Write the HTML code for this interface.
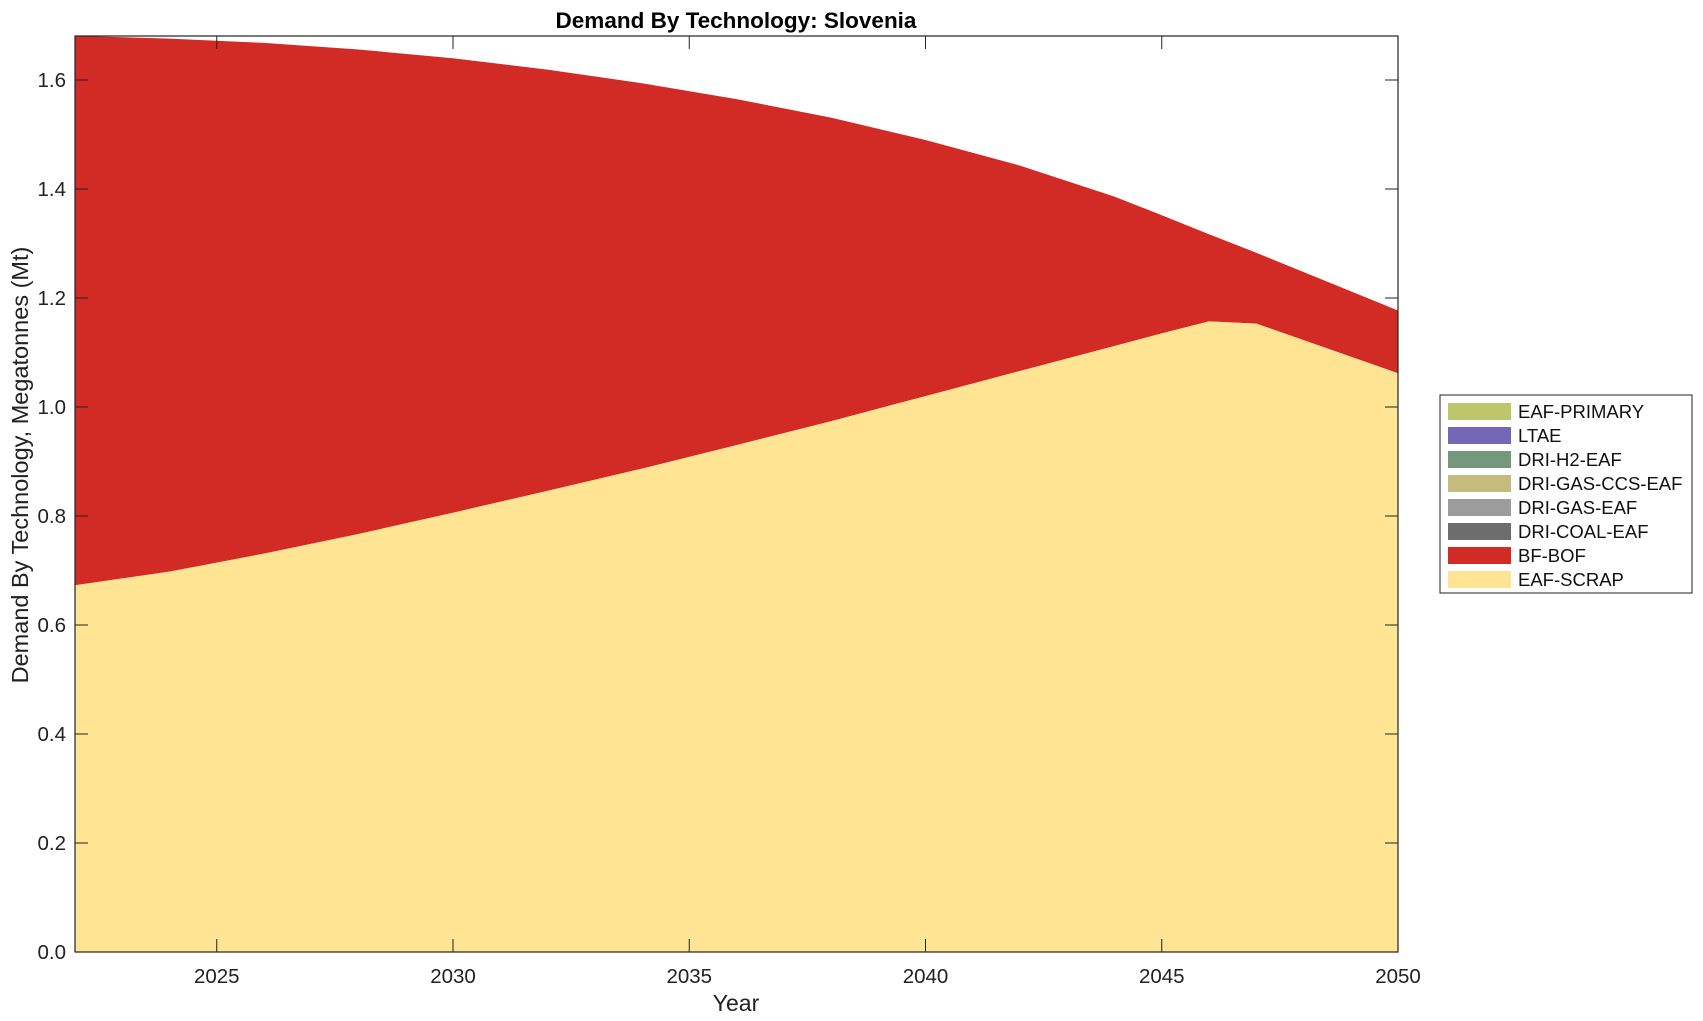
<!DOCTYPE html><html><head><style>body{margin:0;background:#fff}svg{display:block;font-family:"Liberation Sans",Arial,sans-serif}</style></head><body>
<svg id="s" width="1703" height="1021" xmlns="http://www.w3.org/2000/svg"></svg>
<script>
const X=y=>75+(y-2022)*(1398-75)/28, Y=v=>952-v*(952-80)/1.6;
const T=[[2022,1.681],[2024,1.676],[2026,1.668],[2028,1.656],[2030,1.64],[2032,1.619],[2034,1.594],[2036,1.565],[2038,1.531],[2040,1.49],[2042,1.443],[2044,1.386],[2045,1.352],[2046,1.317],[2047,1.283],[2050,1.177]];
const S=[[2022,0.673],[2024,0.698],[2026,0.731],[2028,0.767],[2030,0.806],[2032,0.846],[2034,0.887],[2036,0.93],[2038,0.974],[2040,1.02],[2042,1.066],[2044,1.112],[2045,1.135],[2046,1.157],[2047,1.153],[2050,1.062]];
const p=a=>a.map(d=>X(d[0]).toFixed(1)+','+Y(d[1]).toFixed(1));
let h='';
h+=`<polygon fill="#d22b25" points="${p(T).join(' ')} ${p(S.slice().reverse()).join(' ')}"/>`;
h+=`<polygon fill="#fee493" points="${p(S).join(' ')} ${X(2050)},${Y(0)} ${X(2022)},${Y(0)}"/>`;
h+=`<rect x="75" y="36" width="1323" height="916" fill="none" stroke="#222" stroke-width="1.2"/>`;
for(let i=0;i<=8;i++){const v=i*0.2,y=Y(v);h+=`<line x1="75" x2="88" y1="${y}" y2="${y}" stroke="#222"/><line x1="1385" x2="1398" y1="${y}" y2="${y}" stroke="#222"/><text x="66" y="${y+7}" font-size="20.5" text-anchor="end" fill="#222">${v.toFixed(1)}</text>`;}
for(let yr=2025;yr<=2050;yr+=5){const x=X(yr);h+=`<line x1="${x}" x2="${x}" y1="952" y2="939" stroke="#222"/><line x1="${x}" x2="${x}" y1="36" y2="49" stroke="#222"/><text x="${x}" y="983" font-size="20.5" text-anchor="middle" fill="#222">${yr}</text>`;}
h+=`<text x="736" y="1011" font-size="23" text-anchor="middle" fill="#222">Year</text>`;
h+=`<text transform="translate(28,465) rotate(-90)" font-size="23.5" text-anchor="middle" fill="#222">Demand By Technology, Megatonnes (Mt)</text>`;
h+=`<text x="736" y="28" font-size="22.5" font-weight="bold" text-anchor="middle">Demand By Technology: Slovenia</text>`;
h+=`<rect x="1440" y="395" width="252" height="198" fill="#fff" stroke="#222"/>`;
const L=[["EAF-PRIMARY","#bdc66b"],["LTAE","#7468b6"],["DRI-H2-EAF","#74987b"],["DRI-GAS-CCS-EAF","#c5bb7c"],["DRI-GAS-EAF","#9c9c9c"],["DRI-COAL-EAF","#6d6d6d"],["BF-BOF","#d22b25"],["EAF-SCRAP","#fee493"]];
L.forEach((l,i)=>{const y=403+i*24;h+=`<rect x="1448" y="${y}" width="63" height="17" fill="${l[1]}"/><text x="1518" y="${y+15}" font-size="18.5" fill="#111">${l[0]}</text>`;});
document.getElementById('s').innerHTML=h;
</script></body></html>
